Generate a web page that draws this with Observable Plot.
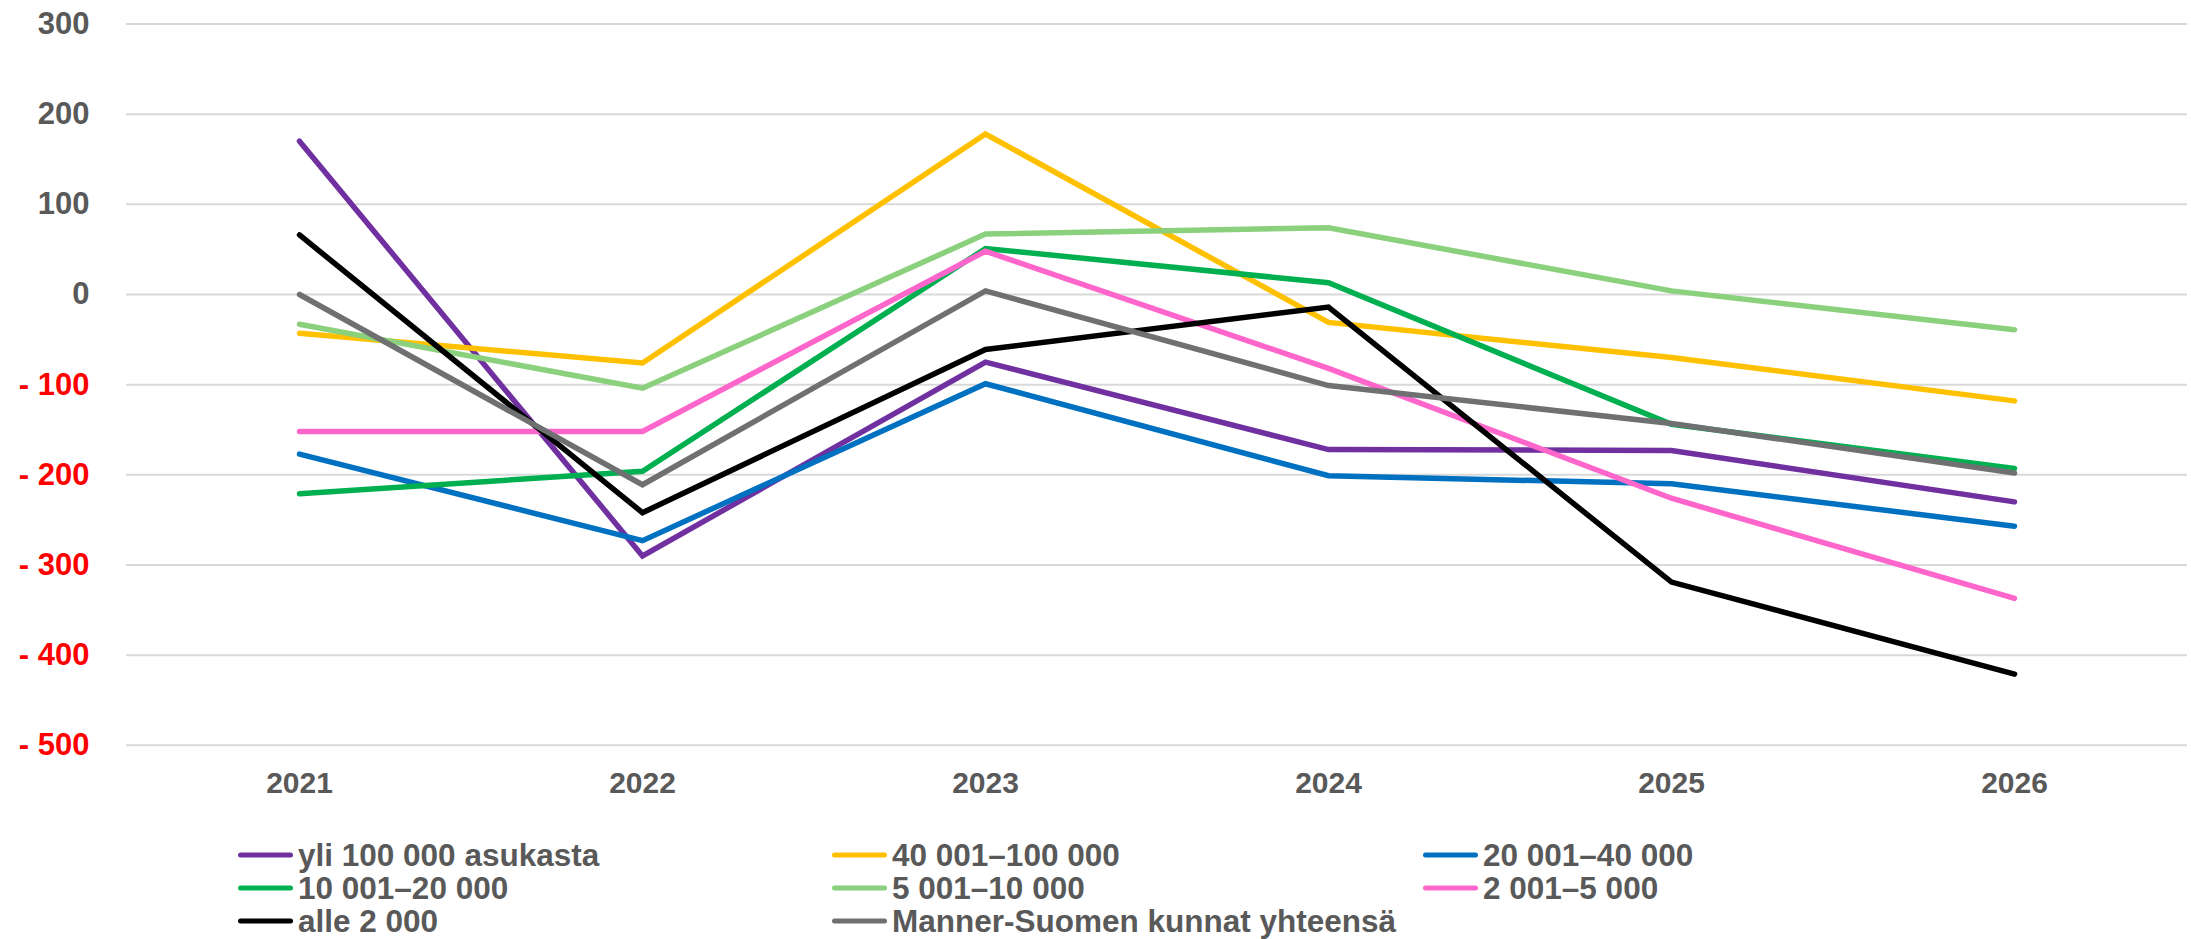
<!DOCTYPE html>
<html>
<head>
<meta charset="utf-8">
<script src="https://cdn.jsdelivr.net/npm/d3@7"></script>
<script src="https://cdn.jsdelivr.net/npm/@observablehq/plot@0.6"></script>
<style>
  html, body { margin: 0; padding: 0; background: #fff; }
  #wrap { position: relative; width: 2191px; height: 939px; overflow: hidden; font-family: "Liberation Sans", Arial, sans-serif; }
  #legend { position: absolute; left: 0; top: 0; width: 2191px; height: 939px; pointer-events: none; }
  .item { position: absolute; display: flex; align-items: center; height: 33px; transform: translateY(-50%);
          font-weight: bold; font-size: 31.5px; color: #595959; white-space: nowrap; }
  .sw { display: inline-block; width: 55px; height: 5.5px; border-radius: 3px; margin-right: 5px; }
</style>
</head>
<body>
<div id="wrap"><div id="chart"></div><div id="legend"></div></div>
<script>
const years = ["2021", "2022", "2023", "2024", "2025", "2026"];
const seriesNames = [
  "yli 100 000 asukasta",
  "40 001–100 000",
  "20 001–40 000",
  "10 001–20 000",
  "5 001–10 000",
  "2 001–5 000",
  "alle 2 000",
  "Manner-Suomen kunnat yhteensä"
];
const seriesColors = ["#7030A0", "#FFC000", "#0070C0", "#00B050", "#8BD07C", "#FF66CC", "#000000", "#6F7072"];
const yli100k   = [170, -290, -75, -172, -173, -230];
const v40to100k = [-43, -76, 178, -31, -70, -118];
const v20to40k  = [-177, -273, -99, -201, -210, -257];
const v10to20k  = [-221, -196, 51, 13, -144, -193];
const v5to10k   = [-33, -104, 67, 74, 4, -39];
const v2to5k    = [-152, -152, 48, -82, -226, -337];
const alle2k    = [66, -242, -61, -14, -319, -421];
const mannerSuomi = [0, -211, 4, -101, -143, -198];
const yTicks = [300, 200, 100, 0, -100, -200, -300, -400, -500];

const seriesValues = [yli100k, v40to100k, v20to40k, v10to20k, v5to10k, v2to5k, alle2k, mannerSuomi];
const rows = [];
seriesNames.forEach((name, i) => {
  years.forEach((yr, j) => rows.push({series: name, year: yr, value: seriesValues[i][j]}));
});

const fmt = v => v < 0 ? "- " + Math.abs(v) : String(v);

const W = 2191, H = 820;
const chart = Plot.plot({
  width: W,
  height: H,
  marginLeft: 126,
  marginRight: 4,
  marginTop: 23.5,
  marginBottom: H - 744.8,
  style: {fontFamily: "'Liberation Sans', Arial, sans-serif", fontWeight: "bold", fontSize: "31px", background: "#fff"},
  x: {type: "point", domain: years, padding: 0.5},
  y: {domain: [-500, 300]},
  color: {domain: seriesNames, range: seriesColors},
  marks: [
    Plot.ruleY(yTicks, {stroke: "#D9D9D9", strokeWidth: 2}),
    Plot.axisY(yTicks.filter(v => v >= 0), {tickSize: 0, tickPadding: 37, tickFormat: fmt, fill: "#595959", fontSize: 31, fontWeight: "bold", label: null}),
    Plot.axisY(yTicks.filter(v => v < 0), {tickSize: 0, tickPadding: 37, tickFormat: fmt, fill: "#FF0000", fontSize: 31, fontWeight: "bold", label: null}),
    Plot.axisX({tickSize: 0, tickPadding: 26, fill: "#595959", fontSize: 30, fontWeight: "bold", label: null}),
    Plot.line(rows, {x: "year", y: "value", z: "series", stroke: "series", strokeWidth: 5.5, strokeLinecap: "round", strokeLinejoin: "miter", strokeMiterlimit: 10})
  ]
});
document.getElementById("chart").appendChild(chart);

// Legend (HTML, below the plot area)
const colX = [238, 832, 1423];
const rowY = [855, 888, 921];
const legend = document.getElementById("legend");
seriesNames.forEach((name, i) => {
  const c = i % 3, r = Math.floor(i / 3);
  const el = document.createElement("div");
  el.className = "item";
  el.style.left = colX[c] + "px";
  el.style.top = rowY[r] + "px";
  const sw = document.createElement("span");
  sw.className = "sw";
  sw.style.background = seriesColors[i];
  const tx = document.createElement("span");
  tx.textContent = name;
  el.appendChild(sw);
  el.appendChild(tx);
  legend.appendChild(el);
});
</script>
</body>
</html>
